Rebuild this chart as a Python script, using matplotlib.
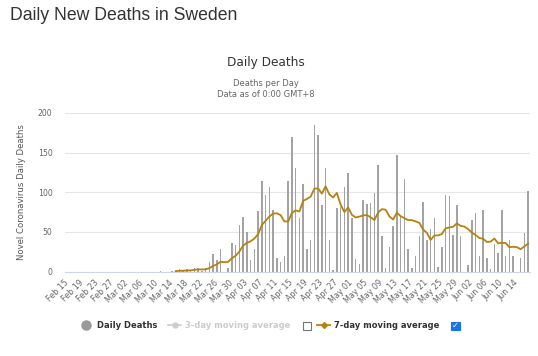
import numpy as np
import pandas as pd
import matplotlib
matplotlib.use("Agg")
import matplotlib.pyplot as plt
from matplotlib.patches import Rectangle
from matplotlib.lines import Line2D

# x categories: one bar per day
dates = pd.date_range("2020-02-15", "2020-06-17")

# daily deaths (no data before Mar 09)
mar_deaths = [0, 0, 1, 0, 0, 1, 1, 3, 1, 3, 1, 5, 4, 1, 4, 12, 22, 15, 28, 0, 4, 36, 34]  # Mar 09 - Mar 31
apr_deaths = [59, 69, 50, 15, 28, 76, 114, 96, 106, 77, 17, 12, 20, 114, 170, 130, 67, 111, 29, 40,
              185, 172, 84, 131, 40, 2, 80, 81, 107, 124]
may_deaths = [67, 16, 10, 90, 85, 87, 99, 135, 45, 5, 31, 57, 147, 69, 117, 28, 5, 19, 45, 88,
              40, 54, 67, 6, 31, 96, 95, 46, 84, 45, 0]
jun_deaths = [8, 65, 74, 20, 77, 17, 3, 35, 23, 78, 19, 40, 20, 0, 17, 48, 102]

yticks = [0, 50, 100, 150, 200]

known = mar_deaths + apr_deaths + may_deaths + jun_deaths
deaths = [np.nan] * (len(dates) - len(known)) + known
daily = pd.Series(deaths, index=dates)
ma7 = daily.rolling(7).mean()

x = np.arange(len(dates))
labels = [d.strftime("%b %d") for d in dates]

BAR = "#a3a3a3"
LINE = "#b5820f"
GREY = "#666666"

fig = plt.figure(figsize=(5.38, 3.56), dpi=100)
ax = fig.add_axes([65 / 538, 1 - 271.5 / 356, 465 / 538, 158.5 / 356])

ax.bar(x, daily.values, width=0.45, color=BAR, zorder=2)
ax.plot(x, ma7.values, color=LINE, lw=1.3, zorder=3)

ax.set_xlim(-0.5, len(dates) - 0.5)
ax.set_ylim(0, 200)
ax.set_yticks(yticks)
ax.grid(axis="y", color="#e6e6e6", lw=0.8, zorder=0)
ax.set_xticks(x[::4])
ax.set_xticklabels(labels[::4], rotation=45, ha="right", va="center",
                   rotation_mode="anchor", fontsize=5.8, color=GREY)
ax.tick_params(axis="x", length=0, pad=7)
ax.tick_params(axis="y", length=0, pad=9, labelsize=5.6, labelcolor=GREY)
for s in ["top", "right", "left"]:
    ax.spines[s].set_visible(False)
ax.spines["bottom"].set_color("#ccd6eb")
ax.spines["bottom"].set_linewidth(0.8)
ax.set_ylabel("Novel Coronavirus Daily Deaths", fontsize=6.1, color="#555555")
ax.yaxis.set_label_coords(-0.083, 0.5)

# titles
fig.text(10 / 538, 1 - 20 / 356, "Daily New Deaths in Sweden", fontsize=12.7,
         family="Liberation Sans", color="#333333", va="baseline")
fig.text(265.5 / 538, 1 - 66 / 356, "Daily Deaths", fontsize=8.7, color="#333333",
         ha="center", va="baseline")
fig.text(265.5 / 538, 1 - 86 / 356, "Deaths per Day", fontsize=6, color=GREY,
         ha="center", va="baseline")
fig.text(265.5 / 538, 1 - 96.7 / 356, "Data as of 0:00 GMT+8", fontsize=6, color=GREY,
         ha="center", va="baseline")

# legend (drawn by hand to mimic the html legend)
ly = 1 - 325 / 356
fig.add_artist(Line2D([86 / 538], [ly], marker="o", ms=6.5, color="#999999", transform=fig.transFigure))
fig.text(97 / 538, ly, "Daily Deaths", fontsize=6, weight="bold", color="#333333", va="center")
fig.add_artist(Line2D([168 / 538, 181 / 538], [ly, ly], color="#cccccc", lw=1.2, transform=fig.transFigure))
fig.add_artist(Line2D([174.5 / 538], [ly], color="#cccccc", marker="o", ms=3.5, transform=fig.transFigure))
fig.text(185 / 538, ly, "3-day moving average", fontsize=6, weight="bold", color="#cccccc", va="center")
fig.add_artist(Rectangle((302.5 / 538, 1 - 330 / 356), 8.5 / 538, 8.5 / 356, transform=fig.transFigure,
                         facecolor="white", edgecolor="#767676", lw=0.8))
fig.add_artist(Line2D([317 / 538, 330 / 538], [ly, ly], color=LINE, lw=1.3, transform=fig.transFigure))
fig.add_artist(Line2D([323.5 / 538], [ly], color=LINE, marker="D", ms=3, transform=fig.transFigure))
fig.text(334 / 538, ly, "7-day moving average", fontsize=6, weight="bold", color="#333333", va="center")
fig.add_artist(Rectangle((451 / 538, 1 - 330 / 356), 8.5 / 538, 8.5 / 356, transform=fig.transFigure,
                         facecolor="#1a73e8", edgecolor="#1a73e8", lw=0.8))
fig.text(455.2 / 538, 1 - 325.8 / 356, "\u2713", fontsize=6, color="white", weight="bold",
         ha="center", va="center")

fig.savefig("out.png", dpi=100)
